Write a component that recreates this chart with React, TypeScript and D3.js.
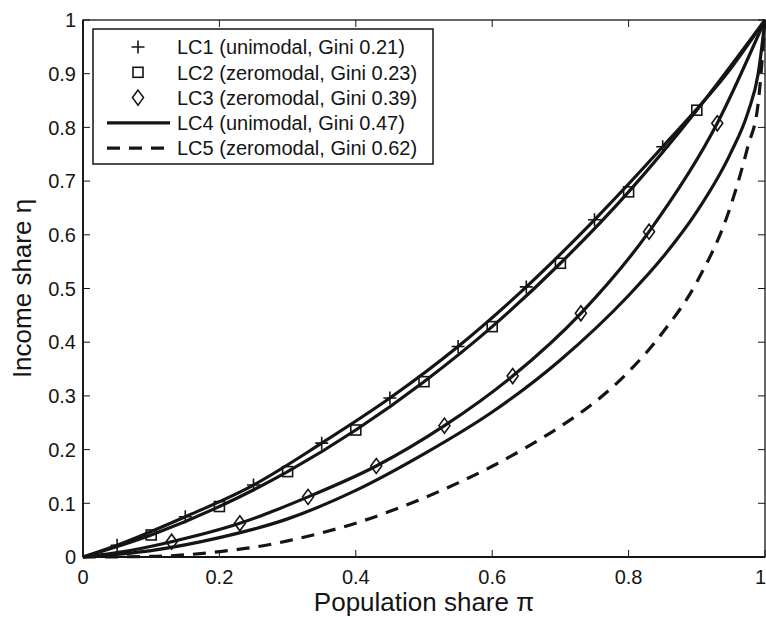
import React, { useEffect, useRef } from 'react';
import * as d3 from 'd3';

// values (population share, income share)
const lc1Markers: [number, number][] = [
  [0.05, 0.022], [0.15, 0.075], [0.25, 0.134], [0.35, 0.212], [0.45, 0.296],
  [0.55, 0.392], [0.65, 0.503], [0.75, 0.628], [0.85, 0.764],
];
const lc2Markers: [number, number][] = [
  [0.1, 0.041], [0.2, 0.094], [0.3, 0.159], [0.4, 0.2365], [0.5, 0.3265],
  [0.6, 0.429], [0.7, 0.547], [0.8, 0.68], [0.9, 0.832],
];
const lc3Markers: [number, number][] = [
  [0.13, 0.0285], [0.23, 0.0627], [0.33, 0.112], [0.43, 0.1695], [0.53, 0.2446],
  [0.63, 0.337], [0.73, 0.4538], [0.83, 0.6058], [0.93, 0.8076],
];
const lc1Curve: [number, number][] = [[0, 0], ...lc1Markers, [0.95, 0.91], [1, 1]];
const lc2Curve: [number, number][] = [[0, 0], ...lc2Markers, [1, 1]];
const lc3Curve: [number, number][] = [[0, 0], [0.05, 0.008], ...lc3Markers, [1, 1]];
const lc4Curve: [number, number][] = [
  [0, 0], [0.1, 0.012], [0.2, 0.036], [0.3, 0.071], [0.4, 0.124], [0.5, 0.192],
  [0.6, 0.27], [0.7, 0.367], [0.8, 0.487], [0.85, 0.558], [0.9, 0.643],
  [0.95, 0.753], [0.975, 0.828], [0.99, 0.9], [1, 1],
];
const lc5Curve: [number, number][] = [
  [0, 0], [0.1, 0.001], [0.15, 0.004], [0.2, 0.01], [0.25, 0.018], [0.3, 0.03],
  [0.35, 0.045], [0.4, 0.063], [0.45, 0.085], [0.5, 0.11], [0.55, 0.138],
  [0.6, 0.169], [0.65, 0.204], [0.7, 0.243], [0.75, 0.288], [0.8, 0.345],
  [0.85, 0.418], [0.9, 0.512], [0.95, 0.655], [0.975, 0.765], [0.99, 0.845], [1, 1],
];

const legendLabels = [
  'LC1 (unimodal, Gini 0.21)',
  'LC2 (zeromodal, Gini 0.23)',
  'LC3 (zeromodal, Gini 0.39)',
  'LC4 (unimodal, Gini 0.47)',
  'LC5 (zeromodal, Gini 0.62)',
];
const xTicks = [0, 0.2, 0.4, 0.6, 0.8, 1];
const yTicks = [0, 0.1, 0.2, 0.3, 0.4, 0.5, 0.6, 0.7, 0.8, 0.9, 1];

const W = 766;
const H = 617;
const FONT = '"Liberation Sans", Arial, Helvetica, sans-serif';
const INK = '#151515';

const App = () => {
  const svgRef = useRef<SVGSVGElement>(null);

  useEffect(() => {
    const svg = d3.select(svgRef.current);
    svg.selectAll('*').remove();

    const left = 83, right = 765, top = 20, bottom = 557;
    const x = d3.scaleLinear().domain([0, 1]).range([left, right]);
    const y = d3.scaleLinear().domain([0, 1]).range([bottom, top]);

    svg.append('rect').attr('width', W).attr('height', H).attr('fill', '#fff');

    // ticks, inward on all four sides
    const tk = 7;
    const g = svg.append('g').attr('stroke', INK).attr('stroke-width', 1);
    xTicks.forEach(t => {
      g.append('line').attr('x1', x(t)).attr('x2', x(t)).attr('y1', bottom).attr('y2', bottom - tk);
      g.append('line').attr('x1', x(t)).attr('x2', x(t)).attr('y1', top).attr('y2', top + tk);
    });
    yTicks.forEach(t => {
      g.append('line').attr('x1', left).attr('x2', left + tk).attr('y1', y(t)).attr('y2', y(t));
      g.append('line').attr('x1', right).attr('x2', right - tk).attr('y1', y(t)).attr('y2', y(t));
    });

    // tick labels (the last one is pulled in so it stays on the page)
    svg.append('g').selectAll('text').data(xTicks).enter().append('text')
      .attr('x', d => (d === 1 ? W : x(d))).attr('y', 584)
      .attr('text-anchor', d => (d === 1 ? 'end' : 'middle'))
      .attr('font-family', FONT).attr('font-size', 20).attr('fill', INK)
      .text(d => d3.format('~g')(d));
    svg.append('g').selectAll('text').data(yTicks).enter().append('text')
      .attr('x', 76).attr('y', d => y(d)).attr('dy', '0.36em')
      .attr('text-anchor', 'end')
      .attr('font-family', FONT).attr('font-size', 20).attr('fill', INK)
      .text(d => d3.format('~g')(d));

    // axis titles
    svg.append('text')
      .attr('x', (left + right) / 2).attr('y', 611)
      .attr('text-anchor', 'middle')
      .attr('font-family', FONT).attr('font-size', 26).attr('fill', INK)
      .text('Population share π');
    svg.append('text')
      .attr('transform', `translate(31, ${(top + bottom) / 2}) rotate(-90)`)
      .attr('text-anchor', 'middle')
      .attr('font-family', FONT).attr('font-size', 26).attr('fill', INK)
      .text('Income share η');

    // curves
    const line = d3.line<[number, number]>()
      .x(d => x(d[0])).y(d => y(d[1]))
      .curve(d3.curveMonotoneX);
    const plot = svg.append('g');
    [lc5Curve, lc4Curve, lc3Curve, lc2Curve, lc1Curve].forEach((c, i) => {
      plot.append('path')
        .datum(c)
        .attr('d', line)
        .attr('fill', 'none')
        .attr('stroke', INK)
        .attr('stroke-width', 3.2)
        .attr('stroke-dasharray', i === 0 ? '13 9' : null);
    });

    // markers
    const plus = (sel, cx, cy) => sel.append('path')
      .attr('d', `M${cx - 6.5},${cy}H${cx + 6.5}M${cx},${cy - 6.5}V${cy + 6.5}`)
      .attr('stroke', INK).attr('stroke-width', 1.6).attr('fill', 'none');
    const square = (sel, cx, cy) => sel.append('rect')
      .attr('x', cx - 5).attr('y', cy - 5).attr('width', 10).attr('height', 10)
      .attr('stroke', INK).attr('stroke-width', 1.6).attr('fill', 'none');
    const diamond = (sel, cx, cy) => sel.append('path')
      .attr('d', `M${cx},${cy - 7.5}L${cx + 5.5},${cy}L${cx},${cy + 7.5}L${cx - 5.5},${cy}Z`)
      .attr('stroke', INK).attr('stroke-width', 1.6).attr('fill', 'none');

    lc1Markers.forEach(d => plus(plot, x(d[0]), y(d[1])));
    lc2Markers.forEach(d => square(plot, x(d[0]), y(d[1])));
    lc3Markers.forEach(d => diamond(plot, x(d[0]), y(d[1])));

    // frame
    svg.append('rect')
      .attr('x', left).attr('y', top).attr('width', right - left).attr('height', bottom - top)
      .attr('fill', 'none').attr('stroke', INK).attr('stroke-width', 1.3);
    svg.append('line')
      .attr('x1', left).attr('x2', right).attr('y1', bottom).attr('y2', bottom)
      .attr('stroke', INK).attr('stroke-width', 2.2);
    svg.append('line')
      .attr('x1', left).attr('x2', left).attr('y1', top).attr('y2', bottom)
      .attr('stroke', INK).attr('stroke-width', 1.8);

    // legend
    const lg = svg.append('g');
    lg.append('rect')
      .attr('x', 93).attr('y', 29).attr('width', 340).attr('height', 135)
      .attr('fill', '#fff').attr('stroke', INK).attr('stroke-width', 1.5);
    legendLabels.forEach((lab, i) => {
      const cy = 47 + i * 25.3;
      if (i === 0) plus(lg, 138, cy);
      if (i === 1) square(lg, 138, cy);
      if (i === 2) diamond(lg, 138, cy);
      if (i >= 3) {
        lg.append('line')
          .attr('x1', 107).attr('x2', 170).attr('y1', cy).attr('y2', cy)
          .attr('stroke', INK).attr('stroke-width', 3.2)
          .attr('stroke-dasharray', i === 4 ? '13 9' : null);
      }
      lg.append('text')
        .attr('x', 177).attr('y', cy).attr('dy', '0.36em')
        .attr('font-family', FONT).attr('font-size', 20).attr('fill', INK)
        .text(lab);
    });
  }, []);

  return (
    <svg ref={svgRef} width={W} height={H}
      style={{ position: 'absolute', left: 0, top: 0 }} />
  );
};

export default App;
